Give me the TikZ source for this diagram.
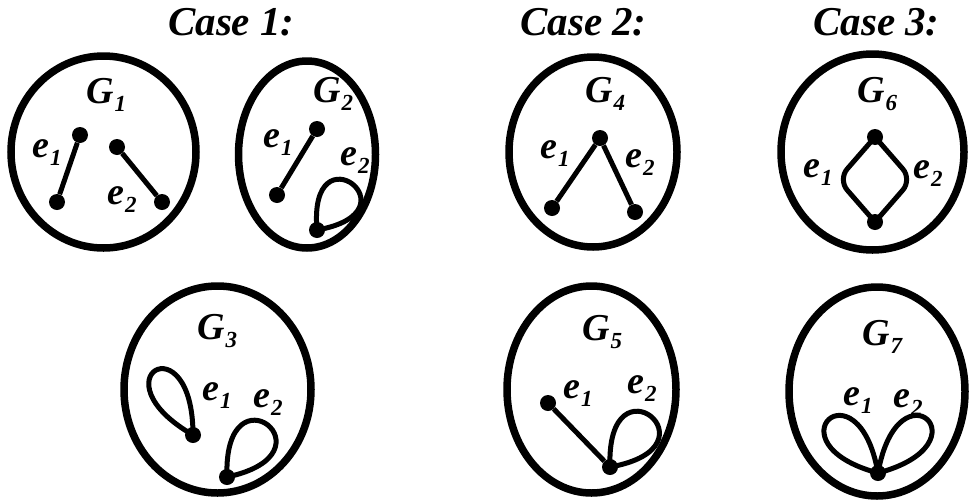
\documentclass[tikz,border=0pt]{standalone}
\usepackage{fontspec}
\setmainfont{Liberation Serif}
\usetikzlibrary{shapes.geometric}
\tikzset{
  ring/.style={ellipse, draw, line width=7.5pt, inner sep=0pt},
  vtx/.style={circle, fill, inner sep=0pt, minimum size=16pt},
  edge/.style={line width=5pt},
  lbl/.style={anchor=base west, inner sep=0pt, font=\fontsize{38}{38}\selectfont\bfseries\itshape},
  casetxt/.style={anchor=base west, inner sep=0pt, font=\fontsize{41}{41}\selectfont\bfseries\itshape},
}
\newcommand\sbx[1]{\kern1pt\raisebox{-0.22em}{\fontsize{23}{23}\selectfont #1}}
\begin{document}
\begin{tikzpicture}[x=1pt,y=1pt]
\useasboundingbox (0,0) rectangle (971,-501);

% case titles
\node[casetxt] (c1) at (168,-35) {Case 1:};
\node[casetxt] (c2) at (520,-35) {Case 2:};
\node[casetxt] (c3) at (813,-35) {Case 3:};

% outer ellipses
\node[ring, minimum width=185pt, minimum height=192pt] (E1) at (103.5,-152) {};
\node[ring, minimum width=137pt, minimum height=187pt] (E2) at (307,-154.5) {};
\node[ring, minimum width=168pt, minimum height=190pt] (E4) at (593,-152) {};
\node[ring, minimum width=183pt, minimum height=196pt] (E6) at (872.5,-152) {};
\node[ring, minimum width=187pt, minimum height=207pt] (E3) at (217.5,-389.5) {};
\node[ring, minimum width=169pt, minimum height=207pt] (E5) at (591.5,-389.5) {};
\node[ring, minimum width=176pt, minimum height=209pt] (E7) at (877,-391.5) {};

% graph labels
\node[lbl] (g1) at (86,-103) {G\sbx{1}};
\node[lbl] (g2) at (313,-102) {G\sbx{2}};
\node[lbl] (g4) at (585,-102) {G\sbx{4}};
\node[lbl] (g6) at (857,-102) {G\sbx{6}};
\node[lbl] (g3) at (197,-339) {G\sbx{3}};
\node[lbl] (g5) at (582,-340) {G\sbx{5}};
\node[lbl] (g7) at (862,-345) {G\sbx{7}};

% edge labels
\node[lbl] (g1e1) at (32,-157) {e\sbx{1}};
\node[lbl] (g1e2) at (107,-204) {e\sbx{2}};
\node[lbl] (g2e1) at (263,-147) {e\sbx{1}};
\node[lbl] (g2e2) at (340,-165) {e\sbx{2}};
\node[lbl] (g4e1) at (540,-158) {e\sbx{1}};
\node[lbl] (g4e2) at (625,-167) {e\sbx{2}};
\node[lbl] (g6e1) at (803,-177) {e\sbx{1}};
\node[lbl] (g6e2) at (913,-178) {e\sbx{2}};
\node[lbl] (g3e1) at (202,-400) {e\sbx{1}};
\node[lbl] (g3e2) at (253,-407) {e\sbx{2}};
\node[lbl] (g5e1) at (563,-398) {e\sbx{1}};
\node[lbl] (g5e2) at (627,-393) {e\sbx{2}};
\node[lbl] (g7e1) at (843,-405) {e\sbx{1}};
\node[lbl] (g7e2) at (893,-407) {e\sbx{2}};

% vertices
\node[vtx] (a1) at (80,-135) {};
\node[vtx] (b1) at (57,-202) {};
\node[vtx] (c1v) at (117,-147) {};
\node[vtx] (d1) at (162,-202) {};
\node[vtx] (a2) at (317,-129) {};
\node[vtx] (b2) at (277,-195) {};
\node[vtx] (v2) at (317,-230) {};
\node[vtx] (t4) at (600,-138) {};
\node[vtx] (l4) at (552,-208) {};
\node[vtx] (r4) at (635,-212) {};
\node[vtx] (t6) at (875,-137) {};
\node[vtx] (b6) at (875,-222) {};
\node[vtx] (u3) at (193,-435) {};
\node[vtx] (w3) at (227,-477) {};
\node[vtx] (l5) at (548,-403) {};
\node[vtx] (v5) at (610,-467) {};
\node[vtx] (v7) at (878,-473) {};

% edges
\draw[edge] (a1) -- (b1);
\draw[edge] (c1v) -- (d1);
\draw[edge] (a2) -- (b2);
\draw[edge] (v2.center) .. controls +(95:105) and +(10:105) .. (v2.center);
\draw[edge] (t4) -- (l4);
\draw[edge] (t4) -- (r4);
\draw[edge, rounded corners=14pt] (t6.center) -- (838,-179.5) -- (b6.center);
\draw[edge, rounded corners=14pt] (t6.center) -- (912,-179.5) -- (b6.center);
\draw[edge] (u3.center) .. controls +(90:115) and +(150:115) .. (u3.center);
\draw[edge] (w3.center) .. controls +(92:115) and +(12:115) .. (w3.center);
\draw[edge] (l5) -- (v5);
\draw[edge] (v5.center) .. controls +(92:115) and +(10:115) .. (v5.center);
\draw[edge] (v7.center) .. controls +(100:115) and +(165:115) .. (v7.center);
\draw[edge] (v7.center) .. controls +(80:115) and +(15:115) .. (v7.center);
\end{tikzpicture}
\end{document}
